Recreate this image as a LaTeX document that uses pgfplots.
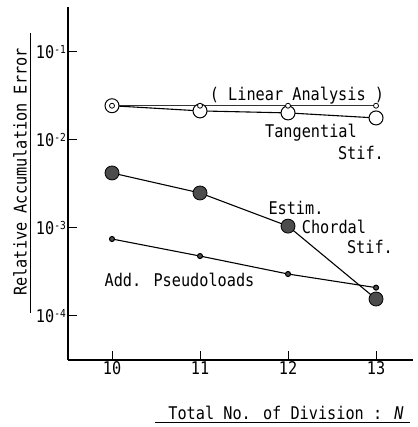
\documentclass[border=0pt]{standalone}
\usepackage{pgfplots}
\pgfplotsset{compat=1.18}
\usepackage{fontspec}
\setmainfont[FakeStretch=0.87]{DejaVu Sans Mono}
\newcommand\tp[1]{10\raisebox{5.5bp}{\fontsize{11bp}{11bp}\selectfont #1}}
\begin{document}
\begin{tikzpicture}[font=\fontsize{17.5bp}{20bp}\selectfont]
\useasboundingbox (-68bp,-67bp) rectangle (350bp,360bp);
\begin{axis}[
  scale only axis, width=345bp, height=353bp,
  xmin=9.5, xmax=13.42, ymode=log, ymin=3.162e-5, ymax=0.3243,
  axis x line*=bottom, axis y line*=left,
  axis line style={line width=1.2pt,-},
  tick align=inside, major tick length=9bp,
  tick style={line width=1pt, black},
  xtick={10,11,12,13}, xticklabels={10,11,12,13},
  ytick={1e-4,1e-3,1e-2,1e-1},
  yticklabels={\tp{-4},\tp{-3},\tp{-2},\tp{-1}},
  yminorticks=false, xminorticks=false,
  /pgf/number format/assume math mode=true,
  tick label style={font=\fontsize{17.5bp}{20bp}\selectfont},
  xticklabel style={yshift=2bp},
  yticklabel style={inner sep=1bp, anchor=east, xshift=-1bp},
  clip=false,
]
\addplot[black, line width=1.1pt, mark=*, mark size=7bp, mark options={fill=white, draw=black, line width=1pt}]
  coordinates {(10,0.0245) (11,0.0214) (12,0.0203) (13,0.0178)};
\addplot[black!80, line width=1.5pt, mark=*, mark size=2.5bp, mark options={fill=white, draw=black, line width=0.8pt}]
  coordinates {(10,0.0245) (11,0.0245) (12,0.0245) (13,0.0245)};
\addplot[black, line width=1.1pt, mark=*, mark size=2.5bp, mark options={fill=black!70, draw=black}]
  coordinates {(10,7.5e-4) (11,4.8e-4) (12,3.0e-4) (13,2.1e-4)};
\addplot[black, line width=1.1pt, mark=*, mark size=7bp, mark options={fill=black!70, draw=black, line width=0.8pt}]
  coordinates {(10,0.00422) (11,0.0025) (12,0.00105) (13,0.000156)};
\end{axis}
\begin{scope}[shift={(-68bp,360bp)},x=1bp,y=-1bp]
\node at (297,96) {( Linear Analysis )};
\node at (311,133) {Tangential};
\node at (361,153) {Stif.};
\node at (296,208) {Estim.};
\node at (334,227) {Chordal};
\node at (370,247) {Stif.};
\node at (179.5,280) {Add. Pseudoloads};
\node[rotate=90] at (20,172) {Relative Accumulation Error};
\draw[line width=1pt] (30,33) -- (30,313);
\node at (286,413) {Total No. of Division : \textit{N}};
\draw[line width=1pt] (155,423) -- (410,423);
\end{scope}
\end{tikzpicture}
\end{document}
